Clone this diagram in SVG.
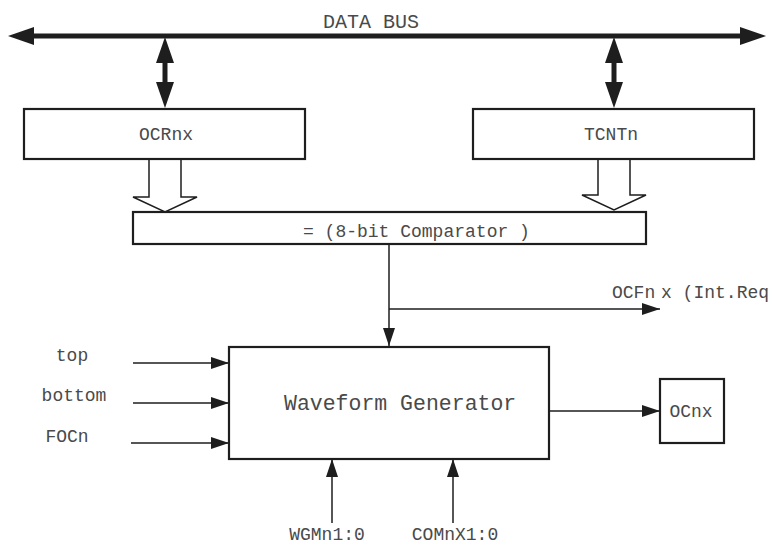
<svg xmlns="http://www.w3.org/2000/svg" width="773" height="546" viewBox="0 0 773 546">
<defs>
<style>
text{font-family:"Liberation Mono","Courier New",monospace;fill:#4a4a4a;font-size:18px}
.box{fill:#fff;stroke:#1e1e1e;stroke-width:2.2}
.wire{stroke:#1e1e1e;stroke-width:1.5;fill:none}
.head{fill:#1e1e1e;stroke:none}
.hollow{fill:#fff;stroke:#1e1e1e;stroke-width:1.5}
</style>
<marker id="ah" viewBox="0 0 18 12" refX="18" refY="6" markerWidth="18" markerHeight="12" markerUnits="userSpaceOnUse" orient="auto">
<path d="M0,0 L18,6 L0,12 Z" fill="#1e1e1e"/>
</marker>
</defs>
<g id="connectors">
<line x1="30" y1="36" x2="745" y2="36" stroke="#1e1e1e" stroke-width="5"/>
<path class="head" d="M8,36 L34,27 L34,45 Z"/>
<path class="head" d="M766,36 L740,27 L740,45 Z"/>
<line x1="165" y1="60" x2="165" y2="85" stroke="#1e1e1e" stroke-width="5"/>
<path class="head" d="M165,37 L156,63 L174,63 Z"/>
<path class="head" d="M165,108 L156,82 L174,82 Z"/>
<line x1="614" y1="60" x2="614" y2="85" stroke="#1e1e1e" stroke-width="5"/>
<path class="head" d="M614,37 L605,63 L623,63 Z"/>
<path class="head" d="M614,108 L605,82 L623,82 Z"/>
<path class="hollow" d="M149,159 L149,197 L133,197 L165,212 L197,197 L181,197 L181,159"/>
<path class="hollow" d="M598,159 L598,195 L582,195 L614,210 L646,195 L630,195 L630,159"/>
<line class="wire" x1="389" y1="245" x2="389" y2="346" marker-end="url(#ah)"/>
<line class="wire" x1="389" y1="309" x2="660" y2="309" marker-end="url(#ah)"/>
<line class="wire" x1="133" y1="363" x2="229" y2="363" marker-end="url(#ah)"/>
<line class="wire" x1="133" y1="403" x2="229" y2="403" marker-end="url(#ah)"/>
<line class="wire" x1="131" y1="443" x2="229" y2="443" marker-end="url(#ah)"/>
<line class="wire" x1="332" y1="523" x2="332" y2="459" marker-end="url(#ah)"/>
<line class="wire" x1="453" y1="523" x2="453" y2="459" marker-end="url(#ah)"/>
<line class="wire" x1="549" y1="411" x2="660" y2="411" marker-end="url(#ah)"/>
</g>
<g id="databus-label"><text x="371" y="28" text-anchor="middle" style="font-size:20px">DATA BUS</text></g>
<g id="ocrnx">
<rect class="box" x="24" y="109" width="281" height="50"/>
<text x="166" y="140" text-anchor="middle">OCRnx</text>
</g>
<g id="tcntn">
<rect class="box" x="473" y="109" width="281" height="50"/>
<text x="611" y="140" text-anchor="middle">TCNTn</text>
</g>
<g id="comparator">
<rect class="box" x="133" y="212" width="513" height="32"/>
<text x="303" y="237">= (8-bit Comparator )</text>
</g>
<g id="waveform">
<rect class="box" x="229" y="347" width="320" height="112"/>
<text x="284" y="410" style="font-size:21.5px">Waveform Generator</text>
</g>
<g id="ocnx">
<rect class="box" x="660" y="379" width="64" height="64"/>
<text x="691" y="417" text-anchor="middle">OCnx</text>
</g>
<g id="labels">
<text x="72" y="361" text-anchor="middle">top</text>
<text x="74" y="401" text-anchor="middle">bottom</text>
<text x="67" y="442" text-anchor="middle">FOCn</text>
<text x="327" y="540" text-anchor="middle">WGMn1:0</text>
<text x="455" y="540" text-anchor="middle">COMnX1:0</text>
<text x="612" y="298">OCFn <tspan dx="-5">x (Int.Req</tspan></text>
</g>
</svg>
